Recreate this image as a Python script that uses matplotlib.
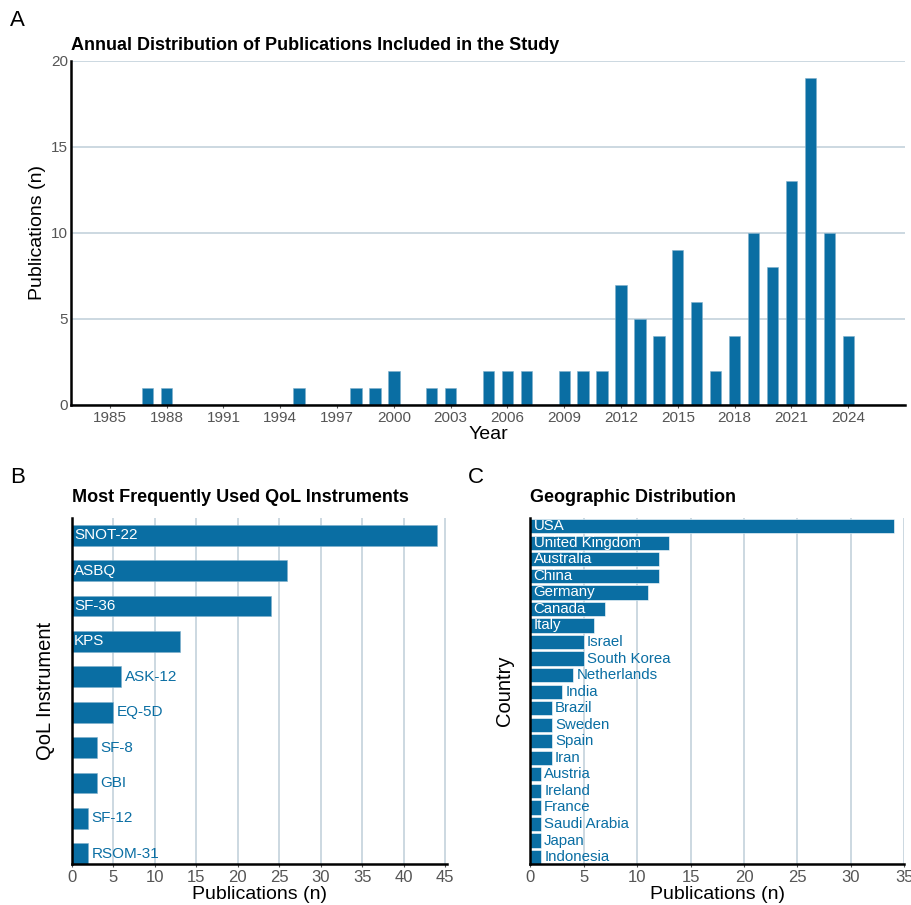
import numpy as np
import matplotlib.pyplot as plt

plt.rcParams['font.family'] = ['Liberation Sans', 'DejaVu Sans']

# panel A data
years = [1987, 1988, 1995, 1998, 1999, 2000, 2002, 2003, 2005, 2006, 2007,
         2009, 2010, 2011, 2012, 2013, 2014, 2015, 2016, 2017, 2018, 2019,
         2020, 2021, 2022, 2023, 2024]
year_counts = [1, 1, 1, 1, 1, 2, 1, 1, 2, 2, 2,
               2, 2, 2, 7, 5, 4, 9, 6, 2, 4, 10,
               8, 13, 19, 10, 4]
year_ticks = list(range(1985, 2025, 3))

# panel B data
instruments = ['SNOT-22', 'ASBQ', 'SF-36', 'KPS', 'ASK-12', 'EQ-5D', 'SF-8',
               'GBI', 'SF-12', 'RSOM-31']
instr_counts = [44, 26, 24, 13, 6, 5, 3, 3, 2, 2]

# panel C data
countries = ['USA', 'United Kingdom', 'Australia', 'China', 'Germany', 'Canada',
             'Italy', 'Israel', 'South Korea', 'Netherlands', 'India', 'Brazil',
             'Sweden', 'Spain', 'Iran', 'Austria', 'Ireland', 'France',
             'Saudi Arabia', 'Japan', 'Indonesia']
country_counts = [34, 13, 12, 12, 11, 7, 6, 5, 5, 4, 3, 2, 2, 2, 2, 1, 1, 1,
                  1, 1, 1]

bar_col = '#0a6ea3'
grid_col = '#c3d2dc'
tick_col = '#555555'


def style(ax, gaxis, tsize):
    for s in ['top', 'right']:
        ax.spines[s].set_visible(False)
    ax.spines['left'].set_linewidth(1.8)
    ax.spines['bottom'].set_linewidth(1.8)
    ax.grid(True, axis=gaxis, color=grid_col, linewidth=1.2)
    ax.set_axisbelow(True)
    ax.tick_params(colors=tick_col, length=2, width=0.8, pad=2,
                   labelsize=tsize)


fig = plt.figure(figsize=(9.12, 9.05), dpi=100)

# A
axA = fig.add_axes([0.0779, 0.5525, 0.9144, 0.3801])
axA.bar(years, year_counts, width=0.6, color=bar_col, edgecolor='#7fb0cc',
        linewidth=0.4)
axA.set_xlim(1982.95, 2027.0)
axA.set_ylim(0, 20)
axA.set_xticks(year_ticks)
axA.set_yticks([0, 5, 10, 15, 20])
style(axA, 'y', 11)
axA.tick_params(axis='y', length=0)
axA.set_xlabel('Year', fontsize=14, labelpad=1)
axA.set_ylabel('Publications (n)', fontsize=14, labelpad=4)
axA.set_title('Annual Distribution of Publications Included in the Study',
              loc='left', fontsize=13, fontweight='bold', pad=8)

# B
axB = fig.add_axes([0.0786, 0.0453, 0.4112, 0.382])
posB = np.arange(len(instruments))[::-1]
axB.barh(posB, instr_counts, height=0.59, color=bar_col, edgecolor='#7fb0cc',
         linewidth=0.4)
axB.set_xlim(0, 45.2)
axB.set_ylim(-0.29, 9.48)
axB.set_xticks(range(0, 46, 5))
axB.set_yticks([])
style(axB, 'x', 12)
for p, name, v in zip(posB, instruments, instr_counts):
    if v >= 10:
        axB.text(0.3, p, name, color='white', va='center', ha='left', fontsize=11)
    else:
        axB.text(v + 0.4, p, name, color=bar_col, va='center', ha='left',
                 fontsize=11)
axB.set_xlabel('Publications (n)', fontsize=14, labelpad=1)
axB.set_ylabel('QoL Instrument', fontsize=14.5, labelpad=12)
axB.set_title('Most Frequently Used QoL Instruments', loc='left', fontsize=13,
              fontweight='bold', pad=12)

# C
axC = fig.add_axes([0.5815, 0.0453, 0.4101, 0.382])
posC = np.arange(len(countries))[::-1]
axC.barh(posC, country_counts, height=0.86, color=bar_col, edgecolor='white',
         linewidth=0.4)
axC.set_xlim(0, 35)
axC.set_ylim(-0.42, 20.48)
axC.set_xticks(range(0, 36, 5))
axC.set_yticks([])
style(axC, 'x', 12)
for p, name, v in zip(posC, countries, country_counts):
    if v >= 6:
        axC.text(0.3, p, name, color='white', va='center', ha='left',
                 fontsize=10.8)
    else:
        axC.text(v + 0.3, p, name, color=bar_col, va='center', ha='left',
                 fontsize=10.8)
axC.set_xlabel('Publications (n)', fontsize=14, labelpad=1)
axC.set_ylabel('Country', fontsize=14.5, labelpad=12)
axC.set_title('Geographic Distribution', loc='left', fontsize=13,
              fontweight='bold', pad=12)

fig.text(0.011, 0.977, 'A', fontsize=16, va='center')
fig.text(0.011, 0.472, 'B', fontsize=16, va='center')
fig.text(0.513, 0.472, 'C', fontsize=16, va='center')

fig.savefig('out.png', dpi=100)
